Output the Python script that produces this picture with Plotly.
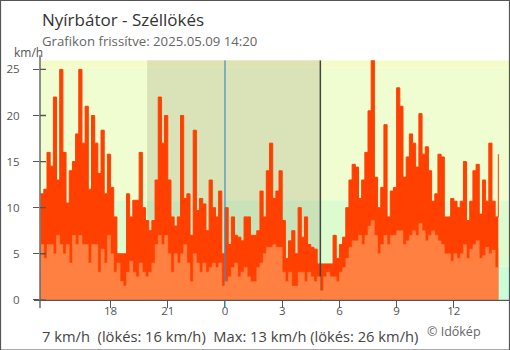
import plotly.graph_objects as go
import pandas as pd

# ---- data (10-minute samples, km/h) ----
START = "2025-05-08 14:20"
STEP = "10min"
gust = [11.5, 12, 16, 14.5, 22, 13, 25, 16, 10.5, 14, 15, 18, 25, 17, 21, 12, 20, 17, 13.7, 18.4,
        11.5, 15.8, 12.2, 9, 5,
        5, 5, 11.5, 9, 10.8, 10.8, 16, 10, 8.6, 7.5, 8.6, 13, 22, 17, 20, 13, 9, 8, 9, 20,
        11, 11.5, 7, 18.4, 9.7,
        11, 10.4, 7.5, 13, 10, 9, 11.8, 5, 10, 6, 9, 7, 6.8, 6.4, 9, 9, 7, 7, 7.5, 11.8,
        9, 14, 17, 11, 11.8,
        14, 8.6, 4.5, 6.4, 7.5, 5, 10, 6.8, 9, 6, 5.7, 5.5, 3.9, 3.9, 3.9, 3.9, 3.9, 7, 4.5, 6,
        6.8, 10, 13, 14.7, 14.4,
        11, 13, 16, 20.5, 26, 13.3, 10, 12.2, 19, 9, 11.8, 12.2, 23, 21, 13.3, 15.5, 18, 17, 14.4, 20.2,
        15.8, 16.6, 14, 10.7, 11.5,
        15.8, 15.5, 9, 9, 11, 10.7, 10, 10.7, 15, 8.6, 10.7, 14, 14.7, 9.3, 13, 10.7, 17, 10.7, 9, 15.8]
mean = [6, 4.5, 6, 6, 5, 7, 6, 5, 6, 4, 7, 6, 7, 6, 6, 4, 6, 6, 3, 5.5,
        4, 7, 5, 3, 4,
        2, 1.5, 3, 4.2, 3, 2.5, 4, 3, 2.5, 3, 4, 6, 7, 6, 7, 5, 3, 5, 4, 5,
        6, 4, 2, 5, 4,
        3, 4, 3, 3.5, 4, 3.5, 4, 1.5, 2, 2.5, 3.5, 4, 2.5, 3, 3.5, 2.5, 2, 2, 3.5, 4,
        5, 5.7, 5.7, 6, 5.7,
        5.7, 3, 2, 3, 1.5, 1.5, 3, 3, 2, 3, 2.5, 2, 2.5, 1, 2.5, 3, 2.5, 2.5, 2, 3,
        3.5, 4.5, 5.7, 6.4, 6.4,
        7, 6, 7, 8, 8.6, 7, 5, 6, 7, 6, 7, 7, 7.5, 7.5, 6, 6.4, 7, 7.5, 7, 8.3,
        7.5, 6.4, 7, 7.5, 7,
        6.4, 6, 5, 5, 4.2, 5, 4.5, 5, 6, 4.5, 5.5, 6, 6.4, 4.5, 4.8, 5.7, 5, 5.4, 3.5, 5.7]
times = pd.date_range(START, periods=len(gust), freq=STEP)

X_START = "2025-05-08 14:18"
X_END = "2025-05-09 14:56:40"
SUNSET = "2025-05-08 19:55"
SUNRISE = "2025-05-09 05:00"
MIDNIGHT = "2025-05-09 00:00"
tick_times = ["2025-05-08 18:00", "2025-05-08 21:00", "2025-05-09 00:00", "2025-05-09 03:00",
              "2025-05-09 06:00", "2025-05-09 09:00", "2025-05-09 12:00"]
tick_text = ["18", "21", "0", "3", "6", "9", "12"]
y_ticks = [0, 5, 10, 15, 20, 25]
Y_MAX = 26
band_edges = [0, 3.6, 10.8, 25.2, Y_MAX]
band_colors = ["#c9fcd7", "#dcfcd0", "#f0fdd0", "#f6fcc8"]

TITLE = "Nyírbátor - Széllökés"
SUBTITLE = "Grafikon frissítve: 2025.05.09 14:20"
STATS = "7 km/h\u00a0\u00a0(lökés: 16 km/h)\u00a0\u00a0Max: 13 km/h (lökés: 26 km/h)"
CREDIT = "© Időkép"

W, H = 510, 358          # page is photographed slightly taller and scaled to 350
REF_H = 350
def px(x): return x / W
def py(y): return 1 - y / REF_H

FONT = "Open Sans"
AX = "#555555"

fig = go.Figure()
fig.add_trace(go.Scatter(x=times, y=gust, mode="lines", line=dict(shape="hv", color="#ff4000", width=1),
                         fill="tozeroy", fillcolor="#ff4000", hoverinfo="skip"))
fig.add_trace(go.Scatter(x=[MIDNIGHT, MIDNIGHT], y=[0, Y_MAX], mode="lines",
                         line=dict(color="#3d8fc6", width=1.2), hoverinfo="skip"))
fig.add_trace(go.Scatter(x=[SUNRISE, SUNRISE], y=[0, Y_MAX], mode="lines",
                         line=dict(color="#444444", width=1.5), hoverinfo="skip"))
fig.add_trace(go.Scatter(x=times, y=mean, mode="lines", line=dict(shape="hv", color="#ff8040", width=0.5),
                         fill="tozeroy", fillcolor="#ff8040", hoverinfo="skip"))

shapes = []
for lo, hi, c in zip(band_edges[:-1], band_edges[1:], band_colors):
    shapes.append(dict(type="rect", xref="x domain", yref="y", x0=0, x1=1, y0=lo, y1=hi,
                       fillcolor=c, line=dict(width=0), layer="below"))
shapes.append(dict(type="rect", xref="x", yref="y domain", x0=SUNSET, x1=SUNRISE, y0=0, y1=1,
                   fillcolor="rgba(92,80,48,0.15)", line=dict(width=0), layer="below"))
# axis lines
shapes.append(dict(type="line", xref="paper", yref="paper", x0=px(34), x1=1, y0=py(299.5), y1=py(299.5),
                   line=dict(color=AX, width=1.3), layer="above"))
shapes.append(dict(type="line", xref="paper", yref="paper", x0=px(40), x1=px(40), y0=py(55), y1=py(307),
                   line=dict(color=AX, width=1.3), layer="above"))
for v in y_ticks:
    shapes.append(dict(type="line", xref="paper", yref="y", x0=px(40), x1=px(46), y0=v, y1=v,
                       line=dict(color=AX, width=1.3), layer="above"))
shapes.append(dict(type="line", xref="x", yref="paper", x0=MIDNIGHT, x1=MIDNIGHT, y0=py(300), y1=py(307),
                   line=dict(color="#3d8fc6", width=1.2), layer="above"))
# frame
shapes.append(dict(type="rect", xref="paper", yref="paper", x0=px(0.5), x1=px(509.5), y0=py(349), y1=py(0.5),
                   line=dict(color="#555555", width=1.2), fillcolor="rgba(0,0,0,0)", layer="above"))

annotations = [
    dict(text=TITLE, x=px(40), y=py(19), xanchor="left", yanchor="middle",
         font=dict(size=17, color="#333333", family=FONT)),
    dict(text=SUBTITLE, x=px(40), y=py(41), xanchor="left", yanchor="middle",
         font=dict(size=13.2, color="#666666", family=FONT)),
    dict(text="km/h", x=px(28), y=py(52), xanchor="center", yanchor="middle",
         font=dict(size=12, color="#555555", family=FONT)),
    dict(text=STATS, x=px(40), y=py(335.5), xanchor="left", yanchor="middle",
         font=dict(size=14.7, color="#444444", family=FONT)),
    dict(text=CREDIT, x=px(425), y=py(331), xanchor="left", yanchor="middle",
         font=dict(size=12.5, color="#666666", family=FONT)),
]
for a in annotations:
    a.update(xref="paper", yref="paper", showarrow=False)

fig.update_layout(
    width=W, height=H, margin=dict(l=0, r=0, t=0, b=0),
    plot_bgcolor="white", paper_bgcolor="white", showlegend=False,
    font=dict(family=FONT, color="#555555"),
    shapes=shapes, annotations=annotations,
    xaxis=dict(domain=[px(40), 1], range=[X_START, X_END], type="date",
               tickvals=tick_times, ticktext=tick_text, ticks="outside", ticklen=7,
               tickcolor=AX, tickwidth=1.2, showgrid=False, zeroline=False, showline=False,
               ticklabelstandoff=-7,
               tickfont=dict(size=11.5, color="#555555"), fixedrange=True),
    yaxis=dict(domain=[py(299), py(60)], range=[0, Y_MAX], tickvals=y_ticks,
               ticks="outside", ticklen=6, tickcolor=AX, tickwidth=1.3, ticklabelstandoff=11,
               showgrid=False, zeroline=False, showline=False,
               tickfont=dict(size=11.5, color="#555555"), fixedrange=True),
)
fig.write_html("out.html")
